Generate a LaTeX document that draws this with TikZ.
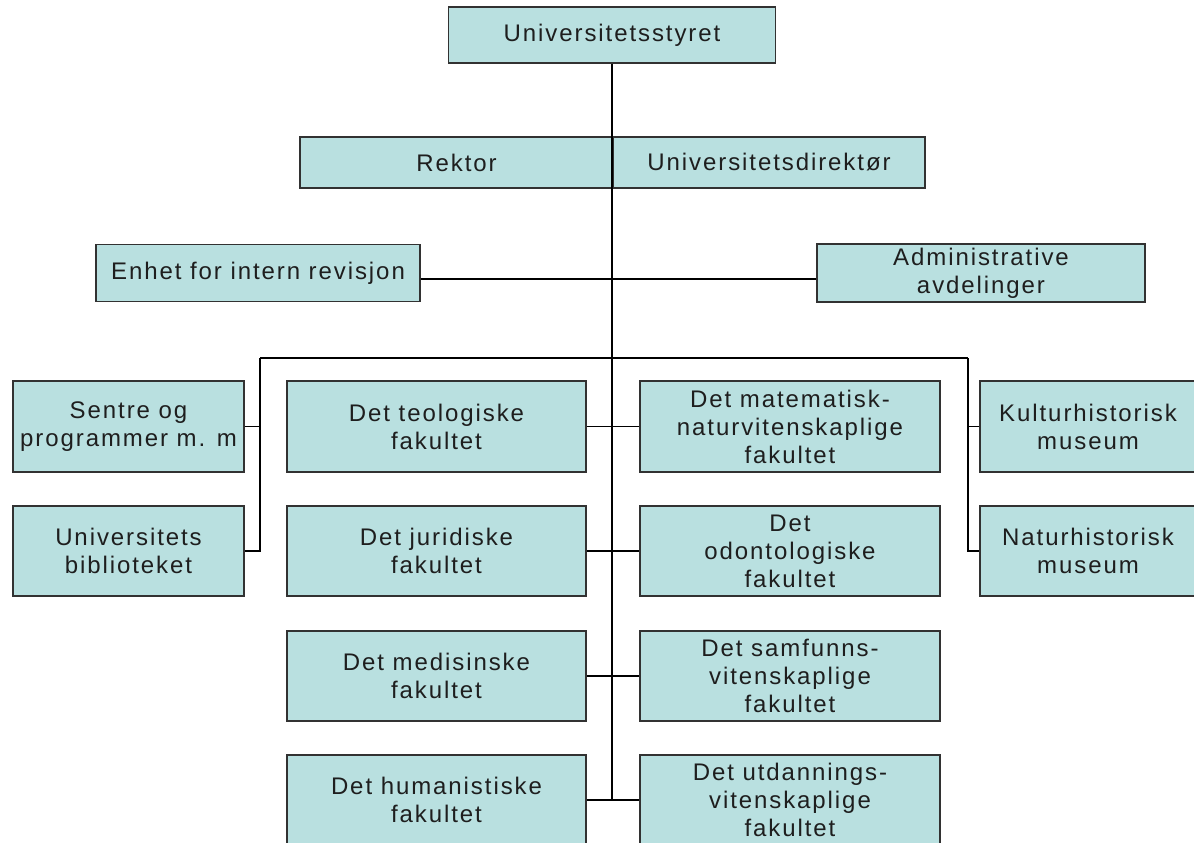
\documentclass[tikz,border=0pt]{standalone}
\usepackage{fontspec}
\setmainfont{Liberation Sans}[LetterSpace=8]
\definecolor{boxfill}{RGB}{185,224,224}
\definecolor{boxline}{RGB}{50,50,50}
\definecolor{txt}{RGB}{30,30,30}
\begin{document}
\begin{tikzpicture}[x=1pt,y=-1pt,
  unit/.style={draw=boxline, fill=boxfill, line width=1.5pt, inner sep=0pt,
    align=center, text=txt, font=\fontsize{24}{28}\selectfont},
  link/.style={draw=black, line width=1.5pt}]
\useasboundingbox (0,0) rectangle (1194,843);

% governing board and leadership
\node[unit, minimum width=327, minimum height=56] (board) at (612,35) {Universitetsstyret};
\node[unit, minimum width=313, minimum height=51] (rektor) at (456.5,162.5) {Rektor};
\node[unit, minimum width=312, minimum height=51] (direktor) at (769,162.5) {Universitetsdirektør};

% staff units
\node[unit, minimum width=324, minimum height=57] (revisjon) at (258,273) {Enhet for intern revisjon};
\node[unit, minimum width=328, minimum height=58] (admin) at (981,273) {Administrative\\avdelinger};

% units outside the faculties
\node[unit, minimum width=231, minimum height=91] (sentre) at (128.5,426.5) {Sentre og\\programmer m. m};
\node[unit, minimum width=231, minimum height=90] (bibl) at (128.5,551) {Universitets\\biblioteket};
\node[unit, minimum width=216, minimum height=91] (kultur) at (1088,426.5) {Kulturhistorisk\\museum};
\node[unit, minimum width=216, minimum height=90] (natur) at (1088,551) {Naturhistorisk\\museum};

% faculties
\node[unit, minimum width=299, minimum height=91] (teol) at (436.5,426.5) {Det teologiske\\fakultet};
\node[unit, minimum width=300, minimum height=91] (matnat) at (790,426.5) {Det matematisk-\\naturvitenskaplige\\fakultet};
\node[unit, minimum width=299, minimum height=90] (jur) at (436.5,551) {Det juridiske\\fakultet};
\node[unit, minimum width=300, minimum height=90] (odont) at (790,551) {Det\\odontologiske\\fakultet};
\node[unit, minimum width=299, minimum height=90] (med) at (436.5,676) {Det medisinske\\fakultet};
\node[unit, minimum width=300, minimum height=90] (samf) at (790,676) {Det samfunns-\\vitenskaplige\\fakultet};
\node[unit, minimum width=299, minimum height=90] (hum) at (436.5,800) {Det humanistiske\\fakultet};
\node[unit, minimum width=300, minimum height=90] (utd) at (790,800) {Det utdannings-\\vitenskaplige\\fakultet};

% main spine
\draw[link] (board.south) -- (board.south |- hum.east);

% staff line
\draw[link] ([yshift=-6pt]revisjon.east) -- ([yshift=-6pt]admin.west);

% distribution bus
\coordinate (busL) at (260,358);
\coordinate (busR) at (968,358);
\draw[link] (busL) -- (busR);
\draw[link] (busL) |- (bibl.east);
\draw[link] (sentre.east) -- (sentre.east -| busL);
\draw[link] (busR) |- (natur.west);
\draw[link] (kultur.west) -- (kultur.west -| busR);

% faculty branches
\draw[link] (teol.east) -- (matnat.west);
\draw[link] (jur.east) -- (odont.west);
\draw[link] (med.east) -- (samf.west);
\draw[link] (hum.east) -- (utd.west);
\end{tikzpicture}
\end{document}
